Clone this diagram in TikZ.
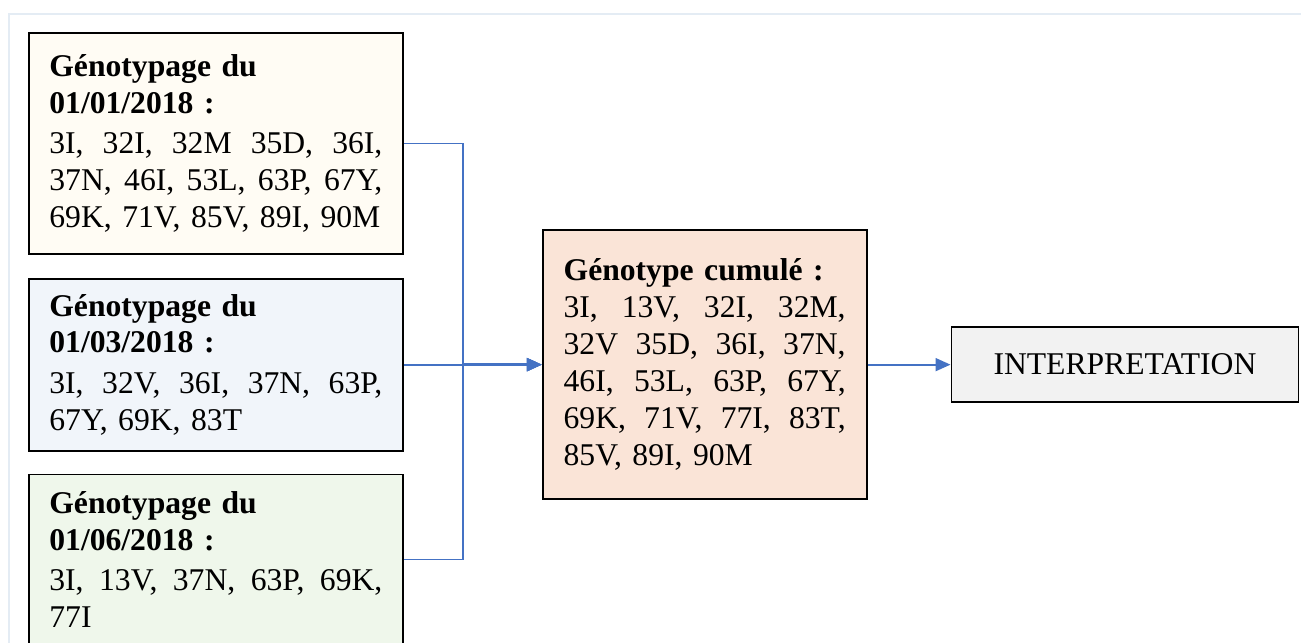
\documentclass[tikz,border=0pt]{standalone}
\usepackage{fontspec}
\setmainfont{Liberation Serif}
\usepackage{tikz}
\usetikzlibrary{positioning, arrows.meta}

\definecolor{framegray}{HTML}{E4ECF4}
\definecolor{linkblue}{HTML}{4472C4}
\definecolor{creamfill}{HTML}{FFFCF4}
\definecolor{bluefill}{HTML}{F1F5FA}
\definecolor{greenfill}{HTML}{EFF7EB}
\definecolor{peachfill}{HTML}{FAE4D7}
\definecolor{grayfill}{HTML}{F2F2F2}

% one full-width (justified) line of a list, items split by \hfill
\newcommand{\jline}[2][6.66cm]{\leavevmode\hbox to #1{#2}}
\newcommand{\nline}[1]{\mbox{#1}}

\tikzset{
  genobox/.style={draw, line width=1pt, text width=6.66cm, inner xsep=0.41cm, align=left,
    minimum width=7.48cm, font=\fontsize{18}{21}\selectfont},
  link/.style={draw=linkblue, line width=1pt},
  arrowlink/.style={link, -{Triangle[length=0.3cm, width=0.26cm]}}
}

\begin{document}
\begin{tikzpicture}
          \useasboundingbox (0,0) rectangle (26.02,-12.84);
          % Light page frame behind the diagram
          \draw [framegray, line width=0.8pt] (0.18,-0.28) rectangle (27,-14);

          % The three genotyping boxes, stacked on the left
          \node (geno_jan) [genobox, fill=creamfill, minimum height=4.42cm, anchor=north west] at (0.56,-0.64)
            {\textbf{Génotypage du}\\\textbf{01/01/2018 :}\\[2pt]
             \jline{3I,\hfill 32I,\hfill 32M\hfill 35D,\hfill 36I,}\\
             \jline{37N,\hfill 46I,\hfill 53L,\hfill 63P,\hfill 67Y,}\\
             \nline{69K, 71V, 85V, 89I, 90M}};
          \node (geno_mar) [genobox, fill=bluefill, minimum height=3.44cm, below=0.46cm of geno_jan]
            {\textbf{Génotypage du}\\\textbf{01/03/2018 :}\\[2pt]
             \jline{3I,\hfill 32V,\hfill 36I,\hfill 37N,\hfill 63P,}\\
             \nline{67Y, 69K, 83T}};
          \node (geno_jun) [genobox, fill=greenfill, minimum height=3.4cm, below=0.44cm of geno_mar]
            {\textbf{Génotypage du}\\\textbf{01/06/2018 :}\\[2pt]
             \jline{3I,\hfill 13V,\hfill 37N,\hfill 63P,\hfill 69K,}\\
             \nline{77I}};

          % Cumulated genotype in the middle
          \node (cumul) [genobox, fill=peachfill, text width=5.64cm, minimum width=6.48cm, minimum height=5.38cm, right=2.76cm of geno_mar]
            {\textbf{Génotype cumulé :}\\
             \jline[5.64cm]{3I,\hfill 13V,\hfill 32I,\hfill 32M,}\\
             \jline[5.64cm]{32V\hfill 35D,\hfill 36I,\hfill 37N,}\\
             \jline[5.64cm]{46I,\hfill 53L,\hfill 63P,\hfill 67Y,}\\
             \jline[5.64cm]{69K,\hfill 71V,\hfill 77I,\hfill 83T,}\\
             \nline{85V, 89I, 90M}};

          % Final step
          \node (interp) [draw, line width=1pt, fill=grayfill, minimum width=6.94cm, minimum height=1.5cm,
            font=\fontsize{18}{21}\selectfont, right=1.66cm of cumul] {INTERPRETATION};

          % Connectors, all meeting at one junction before the middle box
          \coordinate (junction) at ([xshift=1.18cm]geno_mar.east);
          \draw [arrowlink] (geno_jan.east) -| (junction) -- (cumul.west);
          \draw [arrowlink] (geno_jun.east) -| (junction) -- (cumul.west);
          \draw [arrowlink, line width=1.6pt] (junction) -- (cumul.west);
          \draw [arrowlink] (geno_mar.east) -- (cumul.west);
          \draw [arrowlink] (cumul.east) -- (interp.west);

        \end{tikzpicture}
\end{document}
